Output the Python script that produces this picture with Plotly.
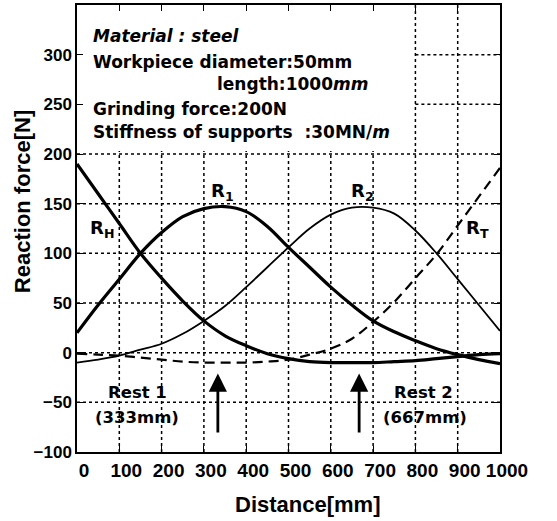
import plotly.graph_objects as go

distance = [0, 50, 100, 150, 200, 250, 300, 350, 400, 450, 500,
            550, 600, 650, 700, 750, 800, 850, 900, 950, 1000]
r_h = [190, 160, 130, 100, 75, 52, 32, 17, 7, -1, -6, -9, -10, -10, -10, -9, -8, -6, -4, -2, -1]
r_1 = [20, 48, 74, 100, 121, 137, 145, 147, 142, 127, 106, 86, 66, 48, 32, 21, 12, 4, -2, -7, -11]
r_2 = [-10, -7, -3, 3, 9, 19, 32, 47, 66, 86, 106, 125, 139, 146, 146, 140, 123, 100, 74, 48, 22]
r_t = [-1, -2, -3, -5, -7, -9, -10, -10, -10, -9, -7, -2, 4, 14, 31, 51, 75, 99, 128, 157, 186]

x_ticks = [0, 100, 200, 300, 400, 500, 600, 700, 800, 900, 1000]
y_ticks = [-100, -50, 0, 50, 100, 150, 200, 250, 300, 350]

# extent of the text box (upper-left) that hides part of the grid
box_x_end = 800
box_y_start = 200

curve_labels = ["R<sub>H</sub>", "R<sub>1</sub>", "R<sub>2</sub>", "R<sub>T</sub>"]
label_x = [60, 345, 676, 946]
label_y = [124, 162, 162, 124]

info_lines = ["<i>Material : steel</i>", "Workpiece diameter:50mm", "length:1000<i>mm</i>",
              "Grinding force:200N", "Stiffness of supports  :30MN/<i>m</i>"]
info_x = [33, 33, 326, 33, 33]
info_y = [319, 293, 270, 245, 222]

rest_labels = ["Rest 1", "(333mm)", "Rest 2", "(667mm)"]
rest_x = [143, 143, 818, 822]
rest_y = [-40, -65, -40, -65]
rest_pos = [333, 667]

ARIAL = "Liberation Sans, Arial, sans-serif"
WIDE = "DejaVu Sans, Verdana, sans-serif"

fig = go.Figure()

# dotted grid drawn as line traces (gaps where the text box sits)
gx, gy = [], []
for xv in x_ticks[1:-1]:
    top = y_ticks[-1] if xv >= box_x_end else box_y_start + 3
    gx += [xv, xv, None]
    gy += [y_ticks[0], top, None]
for yv in y_ticks[1:-1]:
    left = box_x_end if yv > box_y_start else x_ticks[0]
    gx += [left, x_ticks[-1], None]
    gy += [yv, yv, None]
fig.add_trace(go.Scatter(x=gx, y=gy, mode="lines", hoverinfo="skip", connectgaps=False,
                         line=dict(color="black", width=1.5, dash="dot")))

fig.add_trace(go.Scatter(x=distance, y=r_h, mode="lines", line=dict(color="black", width=3.2, shape="spline")))
fig.add_trace(go.Scatter(x=distance, y=r_1, mode="lines", line=dict(color="black", width=3.2, shape="spline")))
fig.add_trace(go.Scatter(x=distance, y=r_2, mode="lines", line=dict(color="black", width=1.8, shape="spline")))
fig.add_trace(go.Scatter(x=distance, y=r_t, mode="lines", line=dict(color="black", width=2.2, dash="10px,6px", shape="spline")))

for t, x, y in zip(curve_labels, label_x, label_y):
    fig.add_annotation(x=x, y=y, text=t, showarrow=False, xanchor="center", yanchor="middle",
                       font=dict(family=WIDE, size=18, color="black", weight="bold"))

for t, x, y in zip(info_lines, info_x, info_y):
    fig.add_annotation(x=x, y=y, text=t, showarrow=False, xanchor="left", yanchor="middle",
                       font=dict(family=WIDE, size=17, color="black", weight="bold"))

for t, x, y in zip(rest_labels, rest_x, rest_y):
    fig.add_annotation(x=x, y=y, text=t, showarrow=False, xanchor="center", yanchor="middle",
                       font=dict(family=WIDE, size=16.5, color="black", weight="bold"))

for p in rest_pos:
    fig.add_annotation(x=p, y=-21, ax=p, ay=-82, xref="x", yref="y", axref="x", ayref="y",
                       text="", showarrow=True, arrowhead=2, arrowsize=1.3, arrowwidth=2.8,
                       arrowcolor="black")

# axis titles
fig.add_annotation(x=0.546, y=-0.118, xref="paper", yref="paper", text="Distance[mm]",
                   xanchor="center", yanchor="middle", showarrow=False,
                   font=dict(family=ARIAL, size=22, color="black", weight="bold"))
fig.add_annotation(x=-0.13, y=0.559, xref="paper", yref="paper", text="Reaction force[N]",
                   xanchor="center", yanchor="middle", textangle=-90, showarrow=False,
                   font=dict(family=ARIAL, size=22, color="black", weight="bold"))

axis_common = dict(showgrid=False, zeroline=False, showline=True, linecolor="black", linewidth=1.5,
                   mirror="ticks", ticks="inside", ticklen=6, tickcolor="black", tickwidth=1)

fig.update_layout(
    width=557, height=521,
    margin=dict(l=77, r=57, t=3, b=69),
    paper_bgcolor="white", plot_bgcolor="white",
    showlegend=False,
    xaxis=dict(range=[x_ticks[0], x_ticks[-1]], tickvals=x_ticks, ticklabelshift=7,
               tickfont=dict(family=ARIAL, size=19, color="black", weight="bold"),
               **axis_common),
    yaxis=dict(range=[y_ticks[0], y_ticks[-1]], tickvals=y_ticks,
               tickfont=dict(family=ARIAL, size=17, color="black", weight="bold"),
               **axis_common),
)

fig.write_html("out.html")
